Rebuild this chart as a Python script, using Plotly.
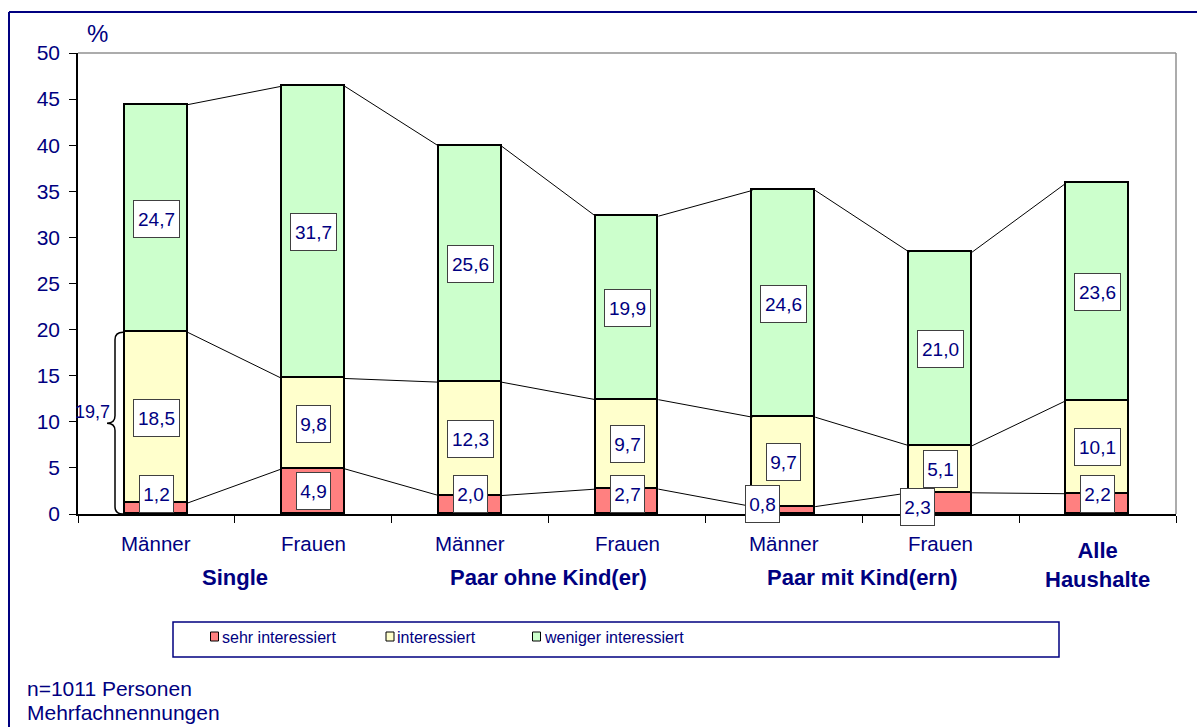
import plotly.graph_objects as go

# --- data -------------------------------------------------------------
sub_labels = ["Männer", "Frauen", "Männer", "Frauen", "Männer", "Frauen", ""]
group_labels = ["Single", "Paar ohne Kind(er)", "Paar mit Kind(ern)", "Alle<br>Haushalte"]
series_names = ["sehr interessiert", "interessiert", "weniger interessiert"]
sehr_interessiert = [1.2, 4.9, 2.0, 2.7, 0.8, 2.3, 2.2]
interessiert = [18.5, 9.8, 12.3, 9.7, 9.7, 5.1, 10.1]
weniger_interessiert = [24.7, 31.7, 25.6, 19.9, 24.6, 21.0, 23.6]
y_ticks = [0, 5, 10, 15, 20, 25, 30, 35, 40, 45, 50]
note_lines = ["n=1011 Personen", "Mehrfachnennungen"]

series = [sehr_interessiert, interessiert, weniger_interessiert]
fills = ["#FF8080", "#FFFFCC", "#CCFFCC"]
NAVY = "#000080"
FONT = "Liberation Sans, Arial, sans-serif"

W, H = 1197, 727
L, R, T, B = 78, 1176, 53, 514   # plot area in pixels
n = len(sub_labels)
pos = list(range(n))
bar_w = 0.4


def px_x(p):
    return (p - L) / (R - L)


def px_y(p):
    return (B - p) / (B - T)


fig = go.Figure()

# stacked bars
for name, vals, col in zip(series_names, series, fills):
    fig.add_trace(go.Bar(
        x=pos, y=vals, width=bar_w, name=name,
        marker=dict(color=col, line=dict(color="black", width=1.6)),
        showlegend=False, hoverinfo="skip",
    ))

# cumulative tops of each segment
cum = []
run = [0.0] * n
for vals in series:
    run = [a + b for a, b in zip(run, vals)]
    cum.append(run)

# series lines joining segment tops of neighbouring bars
for level in cum:
    xs, ys = [], []
    for i in range(n - 1):
        xs += [pos[i] + bar_w / 2, pos[i + 1] - bar_w / 2, None]
        ys += [level[i], level[i + 1], None]
    fig.add_trace(go.Scatter(x=xs, y=ys, mode="lines",
                             line=dict(color="black", width=1),
                             showlegend=False, hoverinfo="skip"))

# value labels in white boxes
min_label_y = (B - 494) / ((B - T) / 50)
label_shift = {(0, 4): (-21, 6), (0, 5): (-23, -4)}   # (series, bar): (dx, dy)
annotations = []
base = [0.0] * n
for s, vals in enumerate(series):
    for i, v in enumerate(vals):
        mid = base[i] + v / 2
        dx, dy = label_shift.get((s, i), (0, None))
        if dy is None:
            y_lab, dy = max(mid, min_label_y), 0
        else:
            y_lab = mid
        txt = f"{v:.1f}".replace(".", ",")
        annotations.append(dict(
            x=pos[i], y=y_lab, xref="x", yref="y", text=txt, showarrow=False,
            xshift=dx, yshift=dy,
            font=dict(family=FONT, size=19, color=NAVY),
            bgcolor="white", bordercolor="#404040", borderwidth=1,
            borderpad=1, width=43 if len(txt) > 3 else 31, height=34,
            align="center", valign="middle",
        ))
    base = [a + b for a, b in zip(base, vals)]

# category labels under the axis
for i, lab in enumerate(sub_labels):
    if lab:
        annotations.append(dict(
            x=pos[i], y=px_y(543), xref="x", yref="paper", text=lab,
            showarrow=False, xanchor="center", yanchor="middle",
            font=dict(family=FONT, size=20.5, color=NAVY)))

group_x = [0.5, 2.5, 4.5, 6]
group_y = [577, 577, 577, 565]
for gx, gy, lab in zip(group_x, group_y, group_labels):
    annotations.append(dict(
        x=gx, y=px_y(gy), xref="x", yref="paper", text=f"<b>{lab}</b>",
        showarrow=False, xanchor="center", yanchor="middle",
        font=dict(family=FONT, size=22, color=NAVY)))

# axis unit
annotations.append(dict(x=px_x(97), y=px_y(33), xref="paper", yref="paper",
                        text="%", showarrow=False, xanchor="center", yanchor="middle",
                        font=dict(family=FONT, size=24, color=NAVY)))

# brace around the first bar's lower two segments
brace_total = sehr_interessiert[0] + interessiert[0]
x1, x2, x3 = px_x(107), px_x(115), px_x(123)
d = 0.8
mid = brace_total / 2
brace_path = (f"M {x3},{brace_total} Q {x2},{brace_total} {x2},{brace_total - d} "
              f"L {x2},{mid + d} Q {x2},{mid} {x1},{mid} "
              f"Q {x2},{mid} {x2},{mid - d} L {x2},{d} Q {x2},0 {x3},0")
shapes = [dict(type="path", path=brace_path, xref="paper", yref="y",
               line=dict(color="black", width=1.5))]
annotations.append(dict(
    x=px_x(112), y=mid, xref="paper", yref="y", yshift=11,
    text=f"{brace_total:.1f}".replace(".", ","), showarrow=False,
    xanchor="right", yanchor="middle",
    font=dict(family=FONT, size=18, color=NAVY)))

# plot area top / right border
shapes += [
    dict(type="line", xref="paper", yref="paper", x0=0, x1=1, y0=1, y1=1,
         line=dict(color="#909090", width=1.5)),
    dict(type="line", xref="paper", yref="paper", x0=1, x1=1, y0=0, y1=1,
         line=dict(color="#909090", width=1.5)),
]

# outer frame
fy = px_y(12)
fx = px_x(9)
shapes += [
    dict(type="line", xref="paper", yref="paper", x0=fx, x1=px_x(1210), y0=fy, y1=fy,
         line=dict(color=NAVY, width=2)),
    dict(type="line", xref="paper", yref="paper", x0=fx, x1=fx, y0=fy, y1=px_y(740),
         line=dict(color=NAVY, width=2)),
]

# legend box drawn by hand
shapes.append(dict(type="rect", xref="paper", yref="paper",
                   x0=px_x(173), x1=px_x(1059), y0=px_y(622), y1=px_y(657),
                   line=dict(color=NAVY, width=1.5), fillcolor="white"))
swatch_x = [214.5, 390, 536.5]
for sx, col, name in zip(swatch_x, fills, series_names):
    shapes.append(dict(type="rect", xref="paper", yref="paper",
                       x0=px_x(sx - 4), x1=px_x(sx + 4), y0=px_y(641), y1=px_y(632),
                       line=dict(color="black", width=1), fillcolor=col))
    annotations.append(dict(x=px_x(sx + 5), y=px_y(637), xref="paper", yref="paper",
                            text=name, showarrow=False, xanchor="left", yanchor="middle",
                            font=dict(family=FONT, size=16, color=NAVY)))

# footnote
for k, line in enumerate(note_lines):
    annotations.append(dict(x=px_x(25), y=px_y(688 + 24 * k), xref="paper", yref="paper",
                            text=line, showarrow=False, xanchor="left", yanchor="middle",
                            font=dict(family=FONT, size=21, color=NAVY)))

fig.update_layout(
    width=W, height=H,
    margin=dict(l=L, r=W - R, t=T, b=H - B, pad=0),
    paper_bgcolor="white", plot_bgcolor="white",
    barmode="stack", bargap=0,
    annotations=annotations, shapes=shapes,
    xaxis=dict(range=[-0.5, n - 0.5], tickvals=[p - 0.5 for p in pos] + [n - 0.5],
               showticklabels=False, ticks="outside", ticklen=7, tickcolor="black",
               showline=True, linecolor="black", linewidth=1.5,
               showgrid=False, zeroline=False, fixedrange=True),
    yaxis=dict(range=[0, 50], tickvals=y_ticks, ticks="outside", ticklen=7,
               tickcolor="black", showline=True, linecolor="black", linewidth=1.5,
               showgrid=False, zeroline=False, ticklabelstandoff=5,
               tickfont=dict(family=FONT, size=21, color=NAVY)),
)

fig.write_html("out.html")
